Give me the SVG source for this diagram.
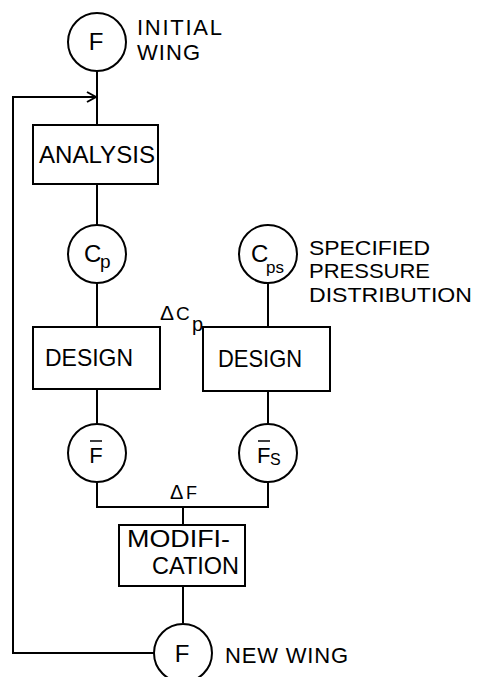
<svg xmlns="http://www.w3.org/2000/svg" width="478" height="677" viewBox="0 0 478 677">
<style>
.n{fill:#fff;stroke:#000;stroke-width:2}
.c{fill:none;stroke:#000;stroke-width:2}
text{font-family:"Liberation Sans",Arial,sans-serif;fill:#000;font-size:24px}
.m{text-anchor:middle}
.s{font-size:17px}
.sp{font-size:21px}
</style>
<defs>
<marker id="ah" markerWidth="12" markerHeight="12" refX="10" refY="6" orient="auto" markerUnits="userSpaceOnUse">
<path d="M1,1 L10,6 L1,11" fill="none" stroke="#000" stroke-width="2"/>
</marker>
</defs>
<rect width="478" height="677" fill="#fff"/>
<g id="connectors">
<line class="c" x1="97" y1="71" x2="97" y2="125"/>
<line class="c" x1="97" y1="184" x2="97" y2="225"/>
<line class="c" x1="97" y1="283" x2="97" y2="327"/>
<line class="c" x1="97" y1="389" x2="97" y2="424"/>
<line class="c" x1="268" y1="283" x2="268" y2="327"/>
<line class="c" x1="268" y1="391" x2="268" y2="424"/>
<polyline class="c" points="97,482 97,507 268,507 268,482"/>
<line class="c" x1="183" y1="507" x2="183" y2="525"/>
<line class="c" x1="183" y1="586" x2="183" y2="623"/>
<polyline class="c" points="154,653 13,653 13,97 96,97" marker-end="url(#ah)"/>
<text x="160" y="320" style="font-size:21px">Δ</text>
<text x="176" y="320" style="font-size:19px">C</text>
<text x="192" y="331" style="font-size:20px">p</text>
<text x="170" y="499" style="font-size:20px">Δ</text>
<text x="186" y="499" style="font-size:18px">F</text>
</g>
<g id="initial">
<circle class="n" cx="97" cy="42" r="29"/>
<text x="96" y="50" class="m">F</text>
<text x="137" y="35" textLength="85" lengthAdjust="spacing" style="font-size:22px">INITIAL</text>
<text x="137" y="60" textLength="63" lengthAdjust="spacing" style="font-size:22px">WING</text>
</g>
<g id="analysis">
<rect class="n" x="33" y="125" width="125" height="59"/>
<text x="39" y="163" textLength="116" lengthAdjust="spacingAndGlyphs">ANALYSIS</text>
</g>
<g id="cp">
<circle class="n" cx="97" cy="254" r="29"/>
<text x="84" y="262">C</text>
<text x="100" y="268" style="font-size:19px">p</text>
</g>
<g id="cps">
<circle class="n" cx="268" cy="254" r="29"/>
<text x="251" y="262">C</text>
<text x="266" y="273" class="s">ps</text>
<text x="309" y="255" class="sp" textLength="121" lengthAdjust="spacingAndGlyphs">SPECIFIED</text>
<text x="309" y="278" class="sp" textLength="121" lengthAdjust="spacingAndGlyphs">PRESSURE</text>
<text x="309" y="302" class="sp" textLength="163" lengthAdjust="spacingAndGlyphs">DISTRIBUTION</text>
</g>
<g id="design1">
<rect class="n" x="33" y="327" width="127" height="62"/>
<text x="45" y="366" textLength="88" lengthAdjust="spacingAndGlyphs">DESIGN</text>
</g>
<g id="design2">
<rect class="n" x="203" y="327" width="127" height="64"/>
<text x="218" y="367" textLength="84" lengthAdjust="spacingAndGlyphs">DESIGN</text>
</g>
<g id="fbar">
<circle class="n" cx="97" cy="453" r="29"/>
<text x="96" y="463" class="m" style="font-size:22px">F</text>
<line class="c" x1="90" y1="441" x2="102" y2="441" style="stroke-width:1.5"/>
</g>
<g id="fsbar">
<circle class="n" cx="268" cy="453" r="29"/>
<text x="257" y="463" style="font-size:22px">F</text>
<line class="c" x1="258" y1="441" x2="270" y2="441" style="stroke-width:1.5"/>
<text x="270" y="465" style="font-size:16px">S</text>
</g>
<g id="modification">
<rect class="n" x="119" y="525" width="126" height="61"/>
<text x="127" y="547" textLength="103" lengthAdjust="spacingAndGlyphs">MODIFI-</text>
<text x="152" y="574" textLength="87" lengthAdjust="spacingAndGlyphs">CATION</text>
</g>
<g id="newwing">
<circle class="n" cx="183" cy="653" r="29"/>
<text x="182" y="662" class="m">F</text>
<text x="225" y="663" textLength="123" lengthAdjust="spacing" style="font-size:22px">NEW WING</text>
</g>
</svg>
